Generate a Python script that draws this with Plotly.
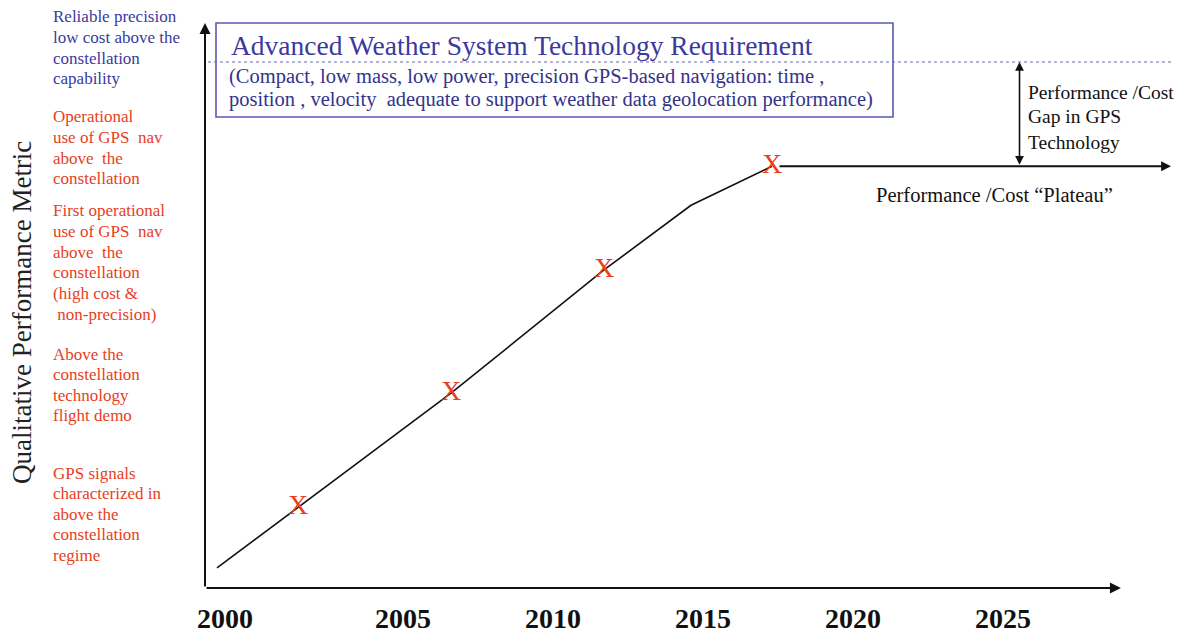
import plotly.graph_objects as go

# ---- data -------------------------------------------------------------
# Performance trend of GPS navigation technology (qualitative scale 0-100)
trend_years = [1998.8, 2001.5, 2006.6, 2011.7, 2014.6, 2017.3]
trend_perf = [3.5, 14.1, 34.0, 55.5, 66.8, 73.6]

# Milestones marked with an "X"
milestone_years = [2001.5, 2006.6, 2011.7, 2017.3]
milestone_perf = [14.1, 34.0, 55.5, 73.6]

# Plateau continues to the end of the timeline
plateau_end_year = 2030.6
requirement_level = 91.8

tick_labels = ["2000", "2005", "2010", "2015", "2020", "2025"]

level_labels = [
    ["Reliable precision", "low cost above the", "constellation", "capability"],
    ["Operational", "use of GPS  nav", "above  the", "constellation"],
    ["First operational", "use of GPS  nav", "above  the", "constellation",
     "(high cost &amp;", " non-precision)"],
    ["Above the", "constellation", "technology", "flight demo"],
    ["GPS signals", "characterized in", "above the", "constellation", "regime"],
]
level_colors = ["#3a3a9e", "#e8401c", "#e8401c", "#e8401c", "#e8401c"]

# ---- layout helpers ---------------------------------------------------
W, H = 1178, 636
SERIF = "Liberation Serif, Times New Roman, serif"
X0, X1 = 1998.4, 2030.733
Y0, Y1 = 0, 100
ML, MR, MT, MB = 205, 3, 15, 48
PW, PH = W - ML - MR, H - MT - MB


def px(x):
    """pixel column -> paper x"""
    return (x - ML) / PW


def py(y):
    """pixel row -> paper y"""
    return (H - MB - y) / PH


fig = go.Figure()

fig.add_trace(go.Scatter(
    x=trend_years, y=trend_perf, mode="lines",
    line=dict(color="#111111", width=1.6), hoverinfo="skip",
))

fig.add_trace(go.Scatter(
    x=milestone_years, y=milestone_perf, mode="text", text=["X"] * len(milestone_years),
    textposition="middle center", cliponaxis=False,
    textfont=dict(family=SERIF, size=28, color="#e8401c"), hoverinfo="skip",
))

annotations = []
arrow_style = dict(xref="x", yref="y", axref="x", ayref="y", text="", showarrow=True,
                   arrowhead=2, arrowsize=1.1, arrowcolor="#111111")

# axes drawn as arrows
annotations.append(dict(x=2028.93, y=0, ax=X0, ay=0, arrowwidth=2, **arrow_style))
annotations.append(dict(x=X0, y=98.6, ax=X0, ay=0, arrowwidth=2, **arrow_style))
# plateau arrow
annotations.append(dict(x=plateau_end_year, y=milestone_perf[-1], ax=trend_years[-1] + 0.2,
                        ay=milestone_perf[-1], arrowwidth=1.8, **arrow_style))
# gap double arrow
gap_year = 2025.55
annotations.append(dict(x=gap_year, y=requirement_level, ax=gap_year, ay=milestone_perf[-1],
                        arrowwidth=1.6, startarrowhead=2, arrowside="end+start",
                        **arrow_style))

# left-side level descriptions, one annotation per line for a tight line pitch
level_tops = [17, 117, 211, 354, 473]
pitch = 20.6
for lines, col, top in zip(level_labels, level_colors, level_tops):
    for i, line in enumerate(lines):
        annotations.append(dict(x=px(51), y=py(top + i * pitch), xref="paper", yref="paper",
                                text=line, showarrow=False, xanchor="left", yanchor="middle",
                                font=dict(family=SERIF, size=17, color=col)))

# y-axis title
annotations.append(dict(x=px(22), y=py(313), xref="paper", yref="paper",
                        text="Qualitative Performance Metric", textangle=-90, showarrow=False,
                        xanchor="center", yanchor="middle",
                        font=dict(family=SERIF, size=27, color="#222222")))

# requirement box text
annotations.append(dict(x=px(229), y=py(45), xref="paper", yref="paper",
                        text="Advanced Weather System Technology Requirement", showarrow=False,
                        xanchor="left", yanchor="middle",
                        font=dict(family=SERIF, size=27.5, color="#3a3a9e")))
req_lines = ["(Compact, low mass, low power, precision GPS-based navigation: time ,",
             "position , velocity  adequate to support weather data geolocation performance)"]
for i, line in enumerate(req_lines):
    annotations.append(dict(x=px(227), y=py(76 + i * 23), xref="paper", yref="paper",
                            text=line, showarrow=False, xanchor="left", yanchor="middle",
                            font=dict(family=SERIF, size=20.5, color="#33338a")))

# gap and plateau text
gap_lines = ["Performance /Cost", "Gap in GPS", "Technology"]
for i, line in enumerate(gap_lines):
    annotations.append(dict(x=px(1026), y=py(92 + i * 25), xref="paper", yref="paper",
                            text=line, showarrow=False, xanchor="left", yanchor="middle",
                            font=dict(family=SERIF, size=19.5, color="#111111")))
annotations.append(dict(x=px(874), y=py(195), xref="paper", yref="paper",
                        text="Performance /Cost \u201cPlateau\u201d", showarrow=False,
                        xanchor="left", yanchor="middle",
                        font=dict(family=SERIF, size=20.5, color="#111111")))

shapes = [
    # requirement box
    dict(type="rect", xref="paper", yref="paper", x0=px(216), x1=px(893), y0=py(117), y1=py(23),
         line=dict(color="#5a5ab4", width=1.6)),
    # required performance level
    dict(type="line", xref="x", yref="y", x0=X0 + 0.1, x1=plateau_end_year, y0=requirement_level,
         y1=requirement_level, line=dict(color="#6a6aa8", width=1, dash="dot")),
]

# the "2000" label sits beside the axis origin
tick_vals = [X0 + 0.67] + [int(t) for t in tick_labels[1:]]

fig.update_layout(
    width=W, height=H,
    margin=dict(l=ML, r=MR, t=MT, b=MB, autoexpand=False),
    paper_bgcolor="white", plot_bgcolor="white",
    showlegend=False,
    xaxis=dict(range=[X0, X1], showgrid=False, automargin=False,
               zeroline=False, showline=False, tickvals=tick_vals, ticktext=tick_labels,
               ticks="outside", ticklen=5, tickcolor="rgba(0,0,0,0)",
               tickfont=dict(family=SERIF, size=28, color="#111111", weight="bold")),
    yaxis=dict(range=[Y0, Y1], showgrid=False, automargin=False,
               zeroline=False, showline=False, showticklabels=False),
    annotations=annotations,
    shapes=shapes,
)

fig.write_html("out.html")
